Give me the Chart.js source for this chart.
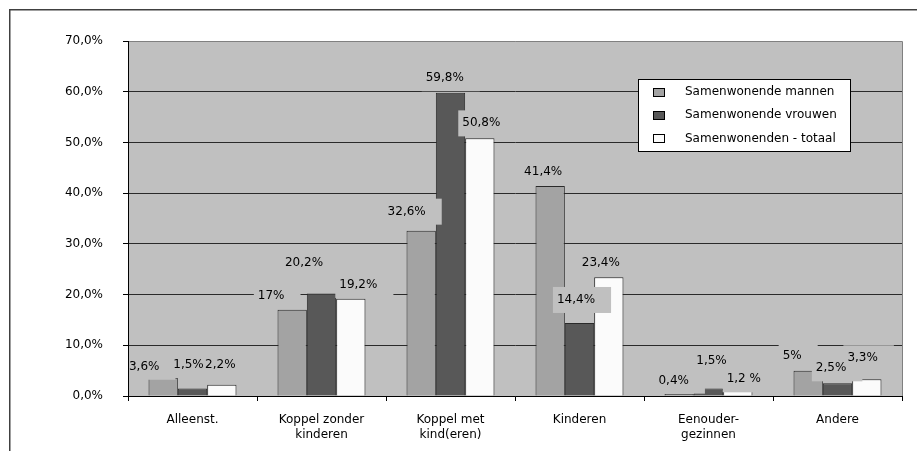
<!DOCTYPE html>
<html>
<head>
<meta charset="utf-8">
<script src="https://cdn.jsdelivr.net/npm/chart.js@4/dist/chart.umd.min.js"></script>
<style>
  html, body { margin: 0; padding: 0; background: #fff; overflow: hidden; }
  canvas { display: block; }
</style>
</head>
<body>
<canvas id="ChartSamenwonen" width="917" height="451"></canvas>
<script>
(function () {
  "use strict";

  // Data
  const categories = ['Alleenst.', ['Koppel zonder', 'kinderen'], ['Koppel met', 'kind(eren)'], 'Kinderen', ['Eenouder-', 'gezinnen'], 'Andere'];
  const seriesNames = ['Samenwonende mannen', 'Samenwonende vrouwen', 'Samenwonenden - totaal'];
  const mannen  = [3.6, 17, 32.6, 41.4, 0.4, 5];
  const vrouwen = [1.5, 20.2, 59.8, 14.4, 1.5, 2.5];
  const totaal  = [2.2, 19.2, 50.8, 23.4, 1.2, 3.3];
  const mannenLabels  = ['3,6%', '17%', '32,6%', '41,4%', '0,4%', '5%'];
  const vrouwenLabels = ['1,5%', '20,2%', '59,8%', '14,4%', '1,5%', '2,5%'];
  const totaalLabels  = ['2,2%', '19,2%', '50,8%', '23,4%', '1,2 %', '3,3%'];
  const yTickLabels = ['0,0%', '10,0%', '20,0%', '30,0%', '40,0%', '50,0%', '60,0%', '70,0%'];

  // Colors
  const plot_bg    = '#c0c0c0';
  const bar_men    = '#a3a3a3';
  const bar_women  = '#585858';
  const bar_total  = '#fbfbfb';
  const line_dark  = '#2a2a2a';

  // Label nudges (dx, dy from bar top centre), placed by hand in the original
  const labelNudge = [
    [[-19, -11], [-21, -14], [-14.5, -19], [-7, -14.4], [-5.5, -13.3], [-16, -15]],
    [[-4, -23.4], [-17.5, -31], [-5.7, -14.5], [-3.5, -23], [3, -27.4], [-6.4, -15]],
    [[-1.5, -19.8], [7.5, -13.7], [1.5, -15], [-8, -14.7], [6, -10.6], [-4.2, -21]]
  ];
  const labelTexts = [mannenLabels, vrouwenLabels, totaalLabels];

  Chart.defaults.font.family = '"DejaVu Sans", Verdana, sans-serif';
  Chart.defaults.font.size = 12;
  Chart.defaults.font.lineHeight = 1.25;
  Chart.defaults.color = '#000';

  const frame = {
    id: 'frame',
    beforeDraw(chart) {
      const { ctx, chartArea: a } = chart;
      ctx.save();
      ctx.fillStyle = plot_bg;
      ctx.fillRect(a.left, a.top, a.right - a.left, a.bottom - a.top);
      ctx.strokeStyle = '#404040';
      ctx.lineWidth = 1.5;
      ctx.strokeRect(9.75, 9.75, 1000, 1000);
      ctx.strokeStyle = '#808080';
      ctx.lineWidth = 1;
      ctx.beginPath();
      ctx.moveTo(a.left, a.top + 0.5);
      ctx.lineTo(a.right + 0.5, a.top + 0.5);
      ctx.lineTo(a.right + 0.5, a.bottom);
      ctx.stroke();
      ctx.restore();
    }
  };

  const valueLabels = {
    id: 'valueLabels',
    afterDatasetsDraw(chart) {
      const { ctx, chartArea: a } = chart;
      const items = [];
      ctx.save();
      ctx.font = '12px "DejaVu Sans"';
      chart.data.datasets.forEach((ds, d) => {
        chart.getDatasetMeta(d).data.forEach((bar, i) => {
          const cx = bar.x + labelNudge[d][i][0];
          const cy = bar.y + labelNudge[d][i][1];
          const text = labelTexts[d][i];
          const w = ctx.measureText(text).width;
          items.push({ text, x: cx - w / 2, cy, w });
        });
      });
      ctx.beginPath();
      ctx.rect(a.left + 1, a.top, a.right - a.left - 1, a.bottom - a.top - 1);
      ctx.clip();
      ctx.fillStyle = plot_bg;
      items.forEach(it => ctx.fillRect(it.x - 4, it.cy - 13, it.w + 20, 26));
      ctx.fillStyle = '#000';
      ctx.textBaseline = 'middle';
      ctx.textAlign = 'left';
      items.forEach(it => ctx.fillText(it.text, it.x, it.cy));
      ctx.restore();
    }
  };

  const boxLegend = {
    id: 'boxLegend',
    afterDraw(chart) {
      const { ctx } = chart;
      ctx.save();
      ctx.fillStyle = '#fff';
      ctx.fillRect(638, 79, 212, 73);
      ctx.strokeStyle = '#000';
      ctx.lineWidth = 1;
      ctx.strokeRect(638.5, 79.5, 212, 72);
      ctx.font = '12px "DejaVu Sans"';
      ctx.textBaseline = 'middle';
      ctx.textAlign = 'left';
      chart.data.datasets.forEach((ds, i) => {
        const y = 92 + i * 23.3;
        ctx.fillStyle = ds.backgroundColor;
        ctx.fillRect(653, Math.round(y - 4.5), 12, 9);
        ctx.strokeStyle = '#000';
        ctx.strokeRect(653.5, Math.round(y - 4.5) + 0.5, 11, 8);
        ctx.fillStyle = '#000';
        ctx.fillText(ds.label, 685, y);
      });
      ctx.restore();
    }
  };

  const chart_el = document.getElementById('ChartSamenwonen');
  if (chart_el != null) {
    const ctb = chart_el.getContext('2d');
    const BarChart = new Chart(ctb, {
      type: 'bar',
      data: {
        labels: categories,
        datasets: [{
          label: seriesNames[0],
          data: mannen,
          backgroundColor: bar_men,
          borderColor: line_dark,
          borderWidth: 1
        },
        {
          label: seriesNames[1],
          data: vrouwen,
          backgroundColor: bar_women,
          borderColor: line_dark,
          borderWidth: 1
        },
        {
          label: seriesNames[2],
          data: totaal,
          backgroundColor: bar_total,
          borderColor: line_dark,
          borderWidth: 1
        }]
      },
      options: {
        responsive: false,
        animation: false,
        categoryPercentage: 0.682,
        barPercentage: 1.0,
        layout: {
          padding: { left: 65, top: 41, right: 15, bottom: 0 }
        },
        scales: {
          x: {
            afterFit: (s) => { s.height = 55; },
            grid: {
              offset: true,
              drawOnChartArea: false,
              drawTicks: true,
              tickLength: 5,
              tickColor: '#000'
            },
            border: { color: '#000', width: 1 },
            ticks: {
              padding: 11,
              maxRotation: 0,
              autoSkip: false,
              color: '#000'
            }
          },
          y: {
            min: 0,
            max: 70,
            afterFit: (s) => { s.width = 63; },
            grid: {
              color: (c) => c.tick && c.tick.value === 70 ? 'rgba(0,0,0,0)' : line_dark,
              tickColor: '#000',
              tickLength: 5
            },
            border: { color: '#000', width: 1 },
            ticks: {
              stepSize: 10,
              padding: 20,
              color: '#000',
              callback: (value, index) => yTickLabels[index]
            }
          }
        },
        plugins: {
          legend: { display: false },
          tooltip: { enabled: false }
        }
      },
      plugins: [frame, valueLabels, boxLegend]
    });
  }
})();
</script>
</body>
</html>
